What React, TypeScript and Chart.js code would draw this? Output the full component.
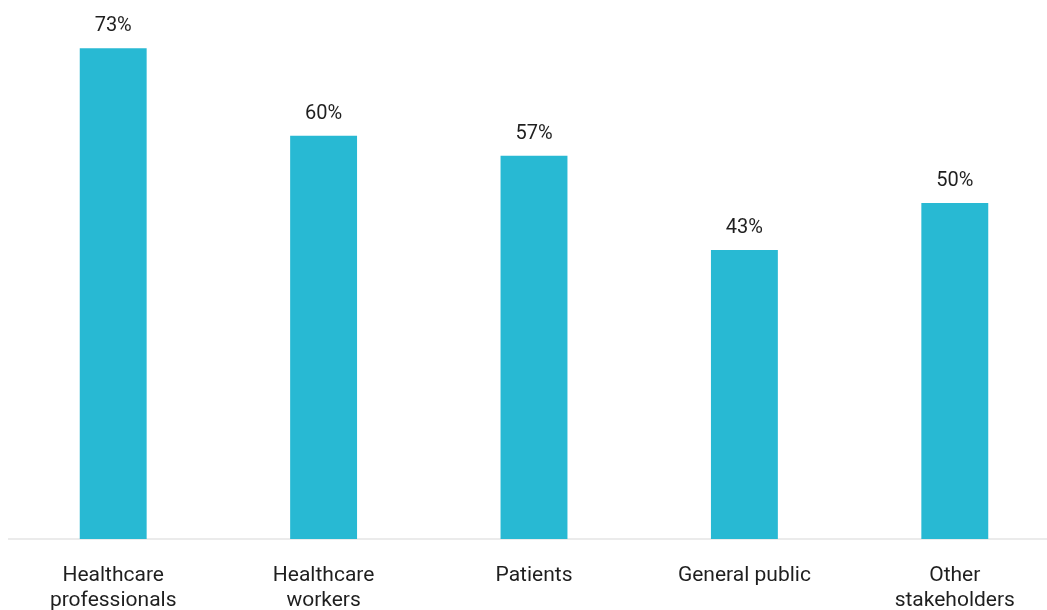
import React, { useEffect, useRef } from "react";
import { Chart, registerables } from "chart.js";

Chart.register(...registerables);

const categories: (string | string[])[] = [
  ["Healthcare", "professionals"],
  ["Healthcare", "workers"],
  "Patients",
  "General public",
  ["Other", "stakeholders"],
];
const values: number[] = [73, 60, 57, 43, 50];
const valueLabels: string[] = ["73%", "60%", "57%", "43%", "50%"];

const BAR_COLOR = "#28b9d3";
const TEXT_COLOR = "#1f1f1f";
const FONT = "Roboto, 'Noto Sans', sans-serif";

const valueLabelPlugin = {
  id: "valueLabels",
  afterDatasetsDraw(chart: any) {
    const ctx = chart.ctx;
    const meta = chart.getDatasetMeta(0);
    ctx.save();
    ctx.font = `400 20px ${FONT}`;
    ctx.fillStyle = TEXT_COLOR;
    ctx.textAlign = "center";
    ctx.textBaseline = "alphabetic";
    meta.data.forEach((bar: any, i: number) => {
      ctx.fillText(valueLabels[i], bar.x, bar.y - 17);
    });
    ctx.restore();
  },
};

export default function App() {
  const canvasRef = useRef<HTMLCanvasElement | null>(null);

  useEffect(() => {
    document.documentElement.style.overflow = "hidden";
    const canvas = canvasRef.current;
    if (!canvas) return;
    const chart = new Chart(canvas, {
      type: "bar",
      data: {
        labels: categories,
        datasets: [
          {
            data: values,
            backgroundColor: BAR_COLOR,
            borderWidth: 0,
            barPercentage: 0.318,
            categoryPercentage: 1,
          },
        ],
      },
      options: {
        animation: false,
        responsive: true,
        maintainAspectRatio: false,
        layout: { padding: 0 },
        plugins: {
          legend: { display: false },
          tooltip: { enabled: false },
          title: { display: false },
        },
        scales: {
          x: {
            grid: { display: false, drawTicks: false },
            border: { display: true, color: "#ebebeb", width: 2 },
            ticks: {
              color: TEXT_COLOR,
              font: { family: FONT, size: 21, lineHeight: 1.2 },
              padding: 24,
              maxRotation: 0,
              autoSkip: false,
            },
            afterFit: (scale: any) => {
              scale.height = 80;
            },
          },
          y: {
            display: false,
            min: 0,
            max: 79,
          },
        },
      },
      plugins: [valueLabelPlugin],
    });
    return () => chart.destroy();
  }, []);

  return (
    <div
      style={{
        position: "fixed",
        left: 8,
        top: 8,
        width: 1039,
        height: 602,
        overflow: "hidden",
      }}
    >
      <div style={{ position: "relative", width: 1052, height: 611 }}>
        <canvas ref={canvasRef} />
      </div>
    </div>
  );
}
